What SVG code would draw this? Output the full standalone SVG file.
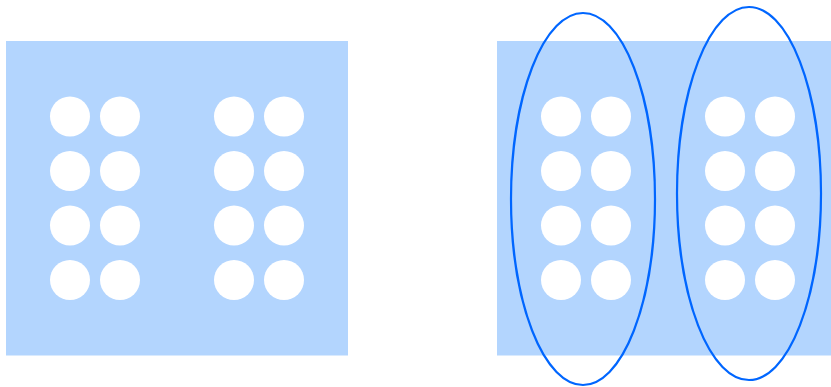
<svg xmlns="http://www.w3.org/2000/svg" width="831" height="387" viewBox="0 0 831 387">
<style>
.box{fill:#b3d5fe}
.dot{fill:#ffffff}
.ring{fill:none;stroke:#0066ff;stroke-width:2.2}
</style>
<defs>
<g id="cluster">
<circle class="dot" cx="0" cy="0" r="20"/><circle class="dot" cx="50" cy="0" r="20"/>
<circle class="dot" cx="0" cy="54.5" r="20"/><circle class="dot" cx="50" cy="54.5" r="20"/>
<circle class="dot" cx="0" cy="109" r="20"/><circle class="dot" cx="50" cy="109" r="20"/>
<circle class="dot" cx="0" cy="163.5" r="20"/><circle class="dot" cx="50" cy="163.5" r="20"/>
</g>
</defs>
<g id="left-panel">
<rect class="box" x="6" y="41" width="342" height="314.5"/>
<use href="#cluster" x="70" y="116.5"/>
<use href="#cluster" x="234" y="116.5"/>
</g>
<g id="right-panel">
<rect class="box" x="497" y="41" width="334" height="314.5"/>
<use href="#cluster" x="561" y="116.5"/>
<use href="#cluster" x="725" y="116.5"/>
</g>
<g id="groupings">
<ellipse class="ring" cx="583" cy="199" rx="72" ry="186"/>
<ellipse class="ring" cx="749" cy="193.5" rx="72" ry="186.5"/>
</g>
</svg>
